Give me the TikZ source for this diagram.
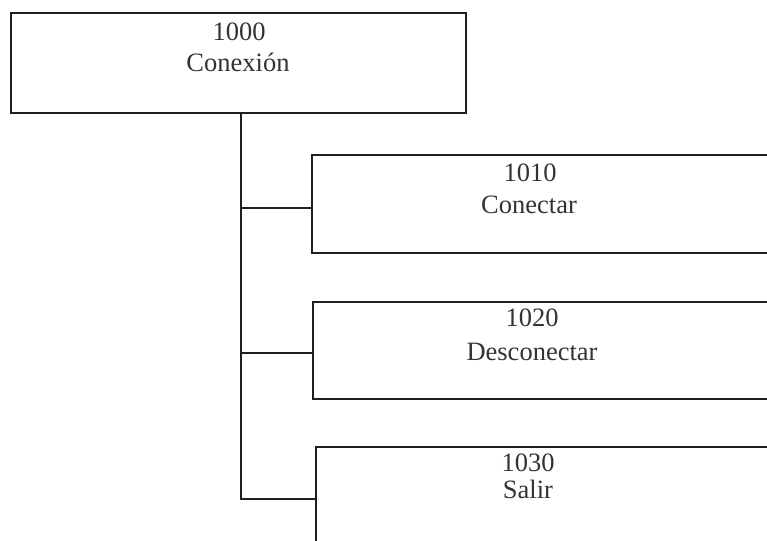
\documentclass[tikz,border=0pt]{standalone}
\usepackage{fontspec}
\setmainfont{Liberation Serif}
\begin{document}
\begin{tikzpicture}[x=1pt,y=-1pt,
  box/.style={draw=black!88, line width=1.3pt, rectangle, inner sep=0pt},
  lbl/.style={anchor=base, inner sep=0pt, text=black!80, font=\fontsize{26.5}{30}\selectfont},
  conn/.style={draw=black!88, line width=1.3pt}]
\useasboundingbox (0,0) rectangle (767,540);
\begin{scope}
\clip (0,0) rectangle (767,540);
% top box
\node[box, minimum width=455pt, minimum height=100pt] (top) at (238.5,63) {};
\node[lbl] (t1) at (239,40.7) {1000};
\node[lbl] (t2) at (238,71.7) {Conexión};
% child boxes (extend beyond the right edge)
\node[box, minimum width=488pt, minimum height=98pt] (b1) at (556,204) {};
\node[lbl] (b1a) at (530,181.7) {1010};
\node[lbl] (b1b) at (529,213) {Conectar};
\node[box, minimum width=487pt, minimum height=97pt] (b2) at (556.5,350.5) {};
\node[lbl] (b2a) at (532,326.7) {1020};
\node[lbl] (b2b) at (532,360) {Desconectar};
\node[box, minimum width=484pt, minimum height=113pt] (b3) at (558,503.5) {};
\node[lbl] (b3a) at (528,471.7) {1030};
\node[lbl] (b3b) at (528,498) {Salir};
% connectors
\coordinate (j1) at (241,208);
\coordinate (j2) at (241,353);
\coordinate (j3) at (241,499);
\draw[conn] (top.south -| j3) -- (j3) -- (j3 -| b3.west);
\draw[conn] (j1) -- (j1 -| b1.west);
\draw[conn] (j2) -- (j2 -| b2.west);
\end{scope}
\end{tikzpicture}
\end{document}
